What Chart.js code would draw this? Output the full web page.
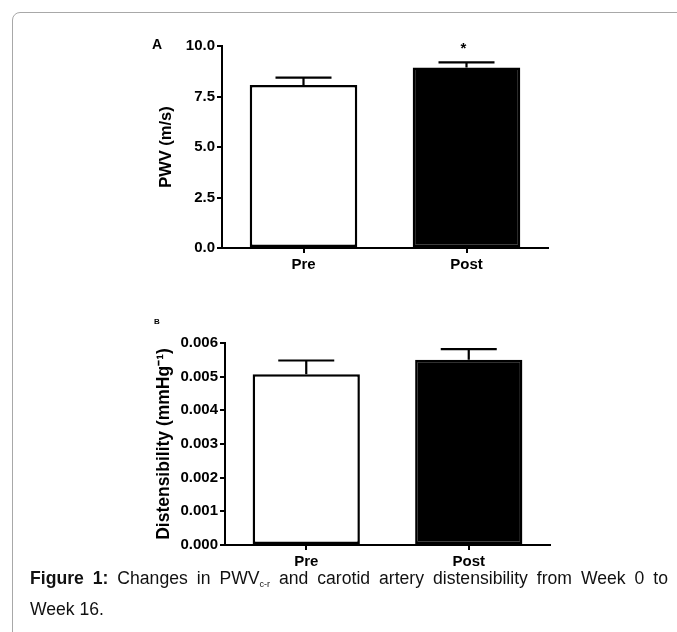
<!DOCTYPE html>
<html>
<head>
<meta charset="utf-8">
<script src="https://cdn.jsdelivr.net/npm/chart.js@4"></script>
<style>
  html, body { margin: 0; padding: 0; background: #fff; }
  body { width: 677px; height: 632px; position: relative; overflow: hidden;
         font-family: "Liberation Sans", Arial, sans-serif; }
  .frame { position: absolute; left: 12px; top: 12px; width: 720px; height: 700px;
           border: 1.5px solid #a8a8a8; border-radius: 8px; box-sizing: border-box; }
  .panel { position: absolute; left: 0; width: 677px; height: 290px; }
  .tag { position: absolute; font-weight: bold; color: #000; }
  .caption { position: absolute; left: 30px; top: 566px; width: 638px;
             font-size: 17.6px; line-height: 25px; text-align: justify; color: #111; }
  .caption sub { font-size: 9px; vertical-align: -3px; }
</style>
</head>
<body>
<div class="frame"></div>

<div class="panel" style="top:0"><canvas id="chartA"></canvas></div>
<div class="panel" style="top:290px"><canvas id="chartB"></canvas></div>

<div class="tag" style="left:152px; top:36px; font-size:14px;">A</div>
<div class="tag" style="left:154px; top:317px; font-size:8px;">B</div>

<div class="caption"><b>Figure 1:</b> Changes in PWV<sub>c-r</sub> and carotid artery distensibility from Week 0 to Week&nbsp;16.</div>

<script>
// ── Data ───────────────────────────────────────────────────────────────────
const groups = ["Pre", "Post"];

const pwvMean = [8.07, 8.94];
const pwvSem  = [0.36, 0.25];
const pwvTicks = [0, 2.5, 5, 7.5, 10];
const pwvSignificant = [false, true];

const distMean = [0.00507, 0.00550];
const distSem  = [0.00041, 0.00032];
const distTicks = [0, 0.001, 0.002, 0.003, 0.004, 0.005, 0.006];

// ── Style ──────────────────────────────────────────────────────────────────
const FONT = "'Liberation Sans', Arial, sans-serif";
const BAR_FILL = ["#ffffff", "#000000"];

// error bars (upper only) + significance star
const errorBarPlugin = {
  id: "errorBars",
  afterDatasetsDraw(chart, args, opts) {
    const ctx = chart.ctx;
    const meta = chart.getDatasetMeta(0);
    const yScale = chart.scales.y;
    ctx.save();
    ctx.strokeStyle = "#000";
    ctx.lineWidth = 2.2;
    meta.data.forEach((bar, i) => {
      const top = yScale.getPixelForValue(opts.mean[i] + opts.sem[i]);
      const base = yScale.getPixelForValue(opts.mean[i]);
      ctx.beginPath();
      ctx.moveTo(bar.x, base);
      ctx.lineTo(bar.x, top);
      ctx.moveTo(bar.x - 28, top);
      ctx.lineTo(bar.x + 28, top);
      ctx.stroke();
      if (opts.star && opts.star[i]) {
        ctx.fillStyle = "#000";
        ctx.font = "bold 15px " + FONT;
        ctx.textAlign = "center";
        ctx.textBaseline = "middle";
        ctx.fillText("*", bar.x - 3, top - 14);
      }
    });
    ctx.restore();
  },
};

function makeBarChart(canvasId, cfg) {
  const canvas = document.getElementById(canvasId);
  return new Chart(canvas, {
    type: "bar",
    data: {
      labels: groups,
      datasets: [{
        data: cfg.mean,
        backgroundColor: BAR_FILL,
        borderColor: "#000",
        borderWidth: 2.5,
        borderSkipped: false,
        barPercentage: 0.66,
        categoryPercentage: 1.0,
      }],
    },
    options: {
      responsive: true,
      maintainAspectRatio: false,
      animation: false,
      layout: { padding: cfg.padding },
      plugins: {
        legend: { display: false },
        tooltip: { enabled: false },
        errorBars: { mean: cfg.mean, sem: cfg.sem, star: cfg.star },
      },
      scales: {
        x: {
          afterFit: (s) => { s.height = cfg.xHeight; },
          grid: { display: true, drawOnChartArea: false, drawTicks: true, tickLength: 5,
                  color: "#000", lineWidth: 2, offset: false },
          border: { color: "#000", width: 2 },
          ticks: { color: "#000", padding: 3, font: { family: FONT, size: 15, weight: "bold" } },
        },
        y: {
          min: 0,
          max: cfg.ticks[cfg.ticks.length - 1],
          afterBuildTicks: (s) => { s.ticks = cfg.ticks.map(v => ({ value: v })); },
          afterFit: (s) => { s.width = cfg.yWidth; },
          grid: { display: true, drawOnChartArea: false, drawTicks: true, tickLength: 5,
                  color: "#000", lineWidth: 2 },
          border: { color: "#000", width: 2 },
          ticks: {
            color: "#000", padding: 2,
            font: { family: FONT, size: 15, weight: "bold" },
            callback: (v) => Number(v).toFixed(cfg.decimals),
          },
          title: {
            display: true,
            text: cfg.title,
            color: "#000",
            padding: { top: cfg.titlePad, bottom: 0 },
            font: { family: FONT, size: cfg.titleSize, weight: "bold", lineHeight: 1.2 },
          },
        },
      },
    },
    plugins: [errorBarPlugin],
  });
}

makeBarChart("chartA", {
  mean: pwvMean, sem: pwvSem, star: pwvSignificant,
  ticks: pwvTicks, decimals: 1,
  title: "PWV (m/s)", titleSize: 16.5,
  padding: { left: 140, right: 129, top: 46, bottom: 0 },
  yWidth: 82, xHeight: 42, titlePad: 17,
});

makeBarChart("chartB", {
  mean: distMean, sem: distSem, star: null,
  ticks: distTicks, decimals: 3,
  title: "Distensibility (mmHg\u207B\u00B9)", titleSize: 17.5,
  padding: { left: 140, right: 127, top: 53, bottom: 0 },
  yWidth: 85, xHeight: 35, titlePad: 14,
});
</script>
</body>
</html>
